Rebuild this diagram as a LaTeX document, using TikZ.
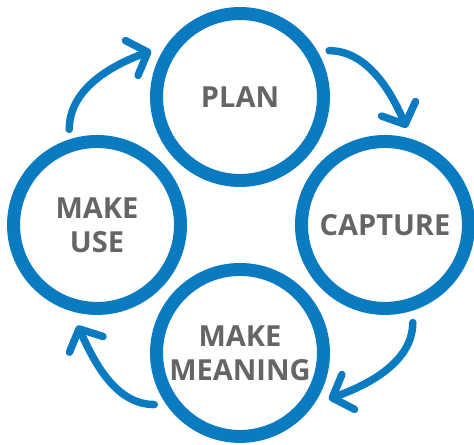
\documentclass[tikz,border=0pt]{standalone}
\usepackage{fontspec}
\setmainfont{Open Sans}
\usepackage{tikz}
\usetikzlibrary{arrows.meta,positioning}
\definecolor{ringblue}{HTML}{0B7BC1}
\definecolor{textgray}{HTML}{646567}

\begin{document}
\begin{tikzpicture}[x=0.02cm, y=0.02cm, on grid,
    stage/.style={circle, draw=ringblue, line width=0.26cm, minimum size=3.34cm,
      inner sep=0pt, align=center, text=textgray,
      font=\fontsize{16.5}{19.4}\selectfont\bfseries},
    cyc/.style={draw=ringblue, line width=0.15cm, line cap=round,
      -{Straight Barb[round, length=0.34cm, width=0.74cm]}}]
  \useasboundingbox (0,0) rectangle (474,445);

  % ノード
  \node[stage] (plan) at (240,348) {PLAN};
  \node[stage] (capture) [below right=2.56cm and 2.9cm of plan] {CAPTURE};
  \node[stage] (meaning) [below left=2.56cm and 2.9cm of capture] {MAKE\\MEANING};
  \node[stage] (use) [above left=2.56cm and 2.86cm of meaning] {MAKE\\USE};

  % 矢印
  \draw[cyc, shorten <=0.24cm, shorten >=0.24cm] (plan.31) to[out=0, in=113] (capture.73);
  \draw[cyc, shorten <=0.24cm, shorten >=0.32cm] (capture.-72) to[out=-90, in=20] (meaning.-35);
  \draw[cyc, shorten <=0.24cm, shorten >=0.32cm] (meaning.215) to[out=180, in=-65] (use.253);
  \draw[cyc, shorten <=0.2cm, shorten >=0.32cm] (use.108) to[out=90, in=200] (plan.145);
\end{tikzpicture}
\end{document}
